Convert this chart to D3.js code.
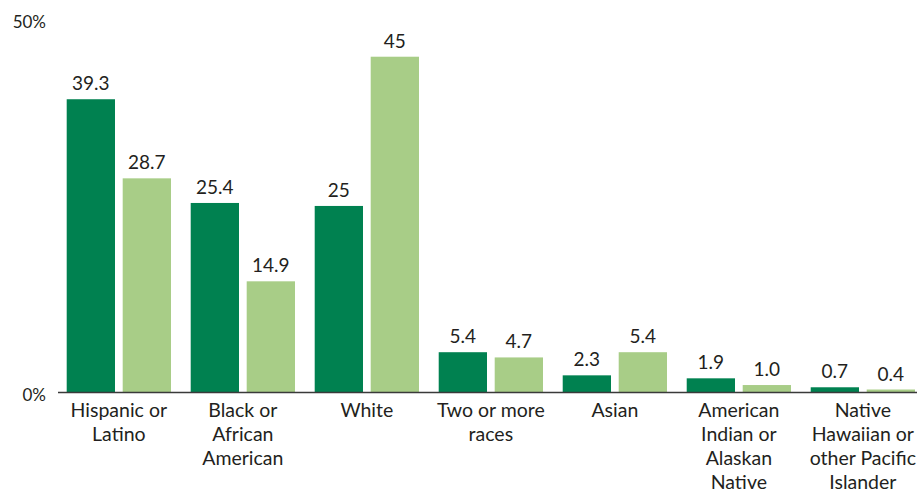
<!DOCTYPE html>
<html>
<head>
<meta charset="utf-8">
<script src="https://cdn.jsdelivr.net/npm/d3@7/dist/d3.min.js"></script>
<style>
  html, body { margin: 0; padding: 0; background: #fff; }
  svg text { font-family: Lato, "Open Sans", sans-serif; fill: #231f20; }
</style>
</head>
<body>
<svg id="chart" width="917" height="494"></svg>
<script>
// Race / ethnicity shares, two series per group
const categories = [
  ["Hispanic or", "Latino"],
  ["Black or", "African", "American"],
  ["White"],
  ["Two or more", "races"],
  ["Asian"],
  ["American", "Indian or", "Alaskan", "Native"],
  ["Native", "Hawaiian or", "other Pacific", "Islander"]
];
const seriesA = [39.3, 25.4, 25, 5.4, 2.3, 1.9, 0.7];
const seriesB = [28.7, 14.9, 45, 4.7, 5.4, 1.0, 0.4];
const labelsA = ["39.3", "25.4", "25", "5.4", "2.3", "1.9", "0.7"];
const labelsB = ["28.7", "14.9", "45", "4.7", "5.4", "1.0", "0.4"];
const yTicks = [0, 50];
const seriesKeys = ["a", "b"];
const colors = { a: "#008150", b: "#a8cd87" };

const svg = d3.select("#chart");
const groupIds = categories.map((d, i) => i);

const x0 = d3.scaleBand().domain(groupIds).range([66.7, 915]).paddingInner(0.159).paddingOuter(0);
const x1 = d3.scaleBand().domain(seriesKeys).range([0, x0.bandwidth()]).paddingInner(0.1375).paddingOuter(0);
const y = d3.scaleLinear().domain([0, 50]).range([392.5, 19.4]);

const rows = groupIds.map(i => ({
  i,
  values: [
    { key: "a", v: seriesA[i], label: labelsA[i] },
    { key: "b", v: seriesB[i], label: labelsB[i] }
  ]
}));

const groups = svg.append("g").selectAll("g")
  .data(rows).join("g")
  .attr("transform", d => `translate(${x0(d.i)},0)`);

groups.selectAll("rect")
  .data(d => d.values).join("rect")
  .attr("x", d => x1(d.key))
  .attr("y", d => y(d.v))
  .attr("width", x1.bandwidth())
  .attr("height", d => y(0) - y(d.v))
  .attr("fill", d => colors[d.key]);

groups.selectAll("text.val")
  .data(d => d.values).join("text")
  .attr("class", "val")
  .attr("x", d => x1(d.key) + x1.bandwidth() / 2)
  .attr("y", d => y(d.v) - 9)
  .attr("text-anchor", "middle")
  .attr("font-size", 19)
  .text(d => d.label);

// Baseline
svg.append("line")
  .attr("x1", 58).attr("x2", 917)
  .attr("y1", y(0)).attr("y2", y(0))
  .attr("stroke", "#3a3a3a").attr("stroke-width", 1.5);

// Y tick labels
svg.append("g").selectAll("text")
  .data(yTicks).join("text")
  .attr("x", 46)
  .attr("y", d => y(d) + 2.5)
  .attr("dy", "0.35em")
  .attr("text-anchor", "end")
  .attr("font-size", 17)
  .text(d => d + "%");

// Category labels
groups.append("text")
  .attr("text-anchor", "middle")
  .attr("font-size", 19.5)
  .selectAll("tspan")
  .data(d => categories[d.i]).join("tspan")
  .attr("x", x0.bandwidth() / 2)
  .attr("y", (d, j) => 417 + j * 24)
  .text(d => d);
</script>
</body>
</html>
